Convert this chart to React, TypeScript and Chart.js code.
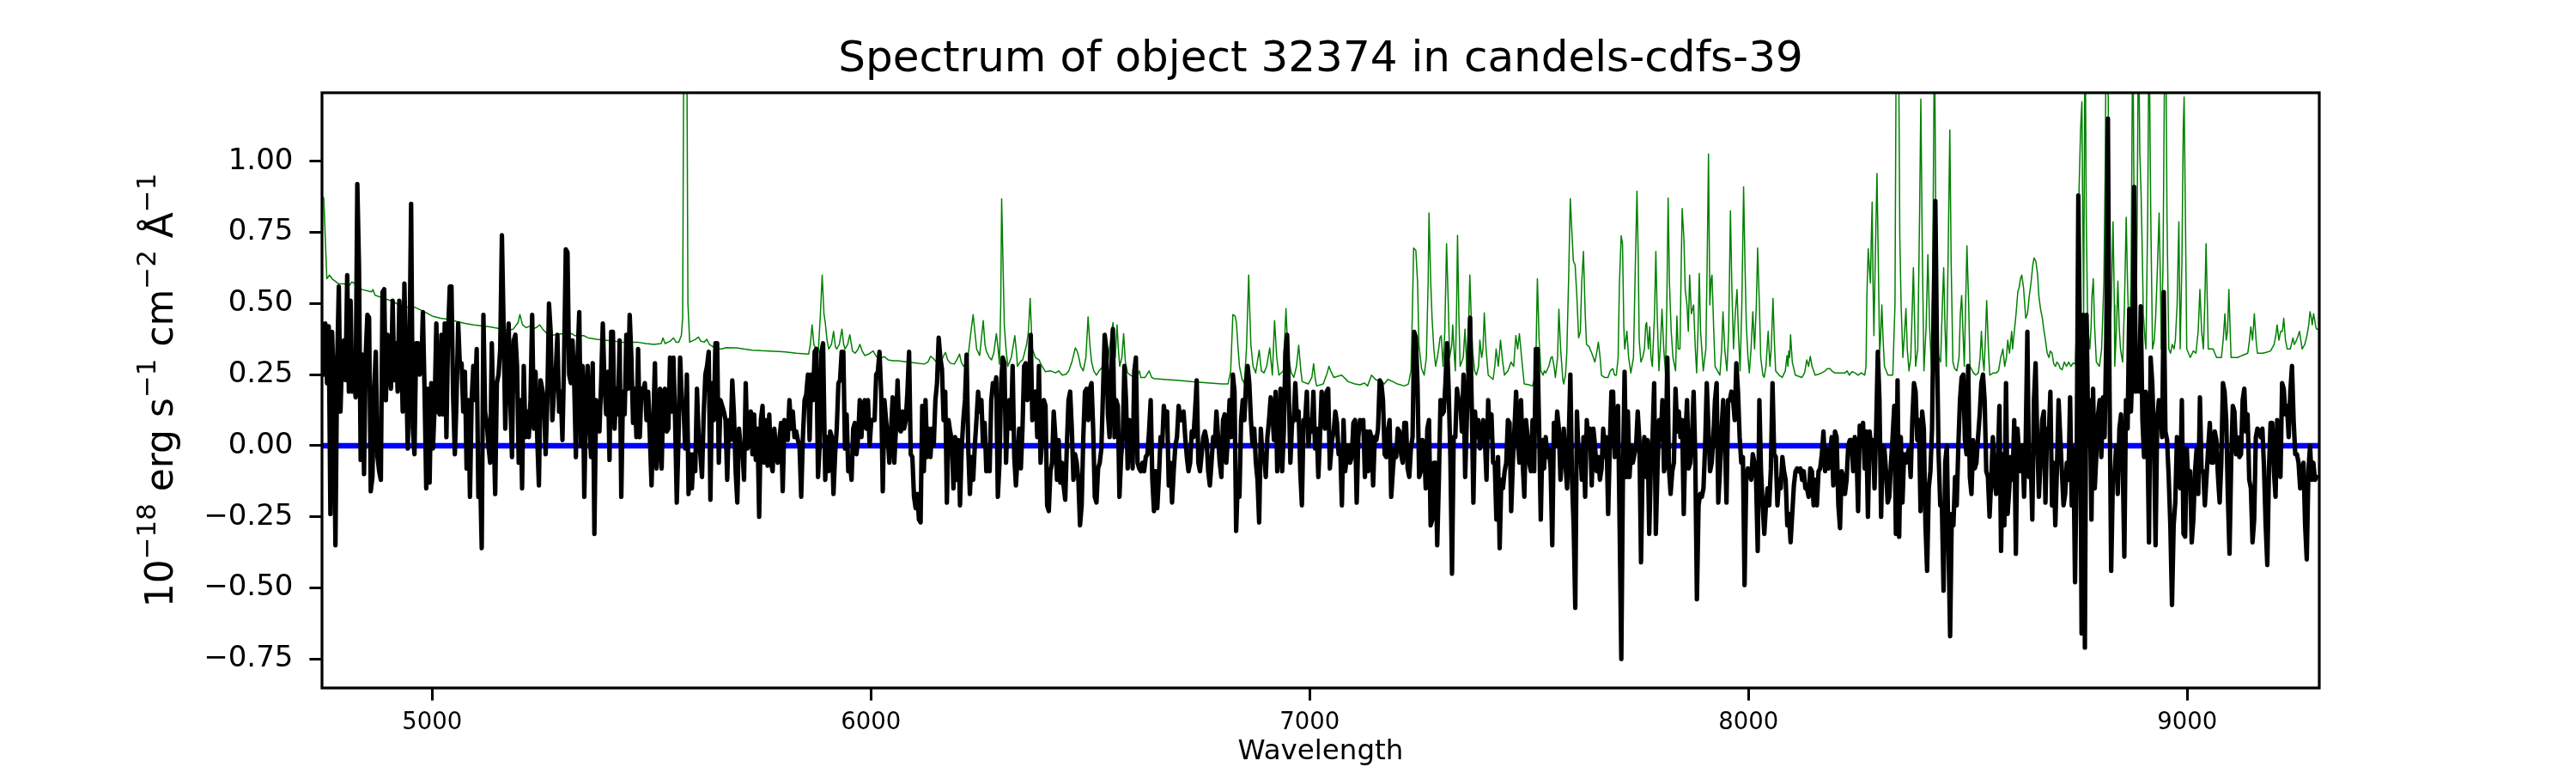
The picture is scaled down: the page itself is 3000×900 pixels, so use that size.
import React, { useEffect, useRef } from 'react';
import { Chart, registerables } from 'chart.js';

Chart.register(...registerables);

// ---------- text ----------
const TITLE = 'Spectrum of object 32374 in candels-cdfs-39';
const X_LABEL = 'Wavelength';
const Y_LABEL_PARTS = [
  { text: '10', sup: false },
  { text: '\u221218', sup: true },
  { text: ' erg s', sup: false },
  { text: '\u22121', sup: true },
  { text: ' cm', sup: false },
  { text: '\u22122', sup: true },
  { text: ' \u00C5', sup: false },
  { text: '\u22121', sup: true },
];

// ---------- axes ----------
const X_MIN = 4749;
const X_MAX = 9301;
const Y_MIN = -0.852;
const Y_MAX = 1.241;
const X_TICKS = [5000, 6000, 7000, 8000, 9000];
const Y_TICKS = [-0.75, -0.5, -0.25, 0, 0.25, 0.5, 0.75, 1.0];

// ---------- black spectrum (flux), four wavelength segments ----------
const FLUX_SEGMENT_START = [4749, 5896, 7051, 8205];
const FLUX_SEGMENT_END = [5891, 7046, 8201, 9295];

const FLUX_A = [
  0.43,0.25,0.43,0.22,0.42,-0.24,0.40,0.20,-0.35,0.28,
  0.56,0.12,0.33,0.37,0.23,0.60,0.19,0.51,0.19,0.26,
  0.17,0.92,0.63,-0.05,0.32,-0.10,0.32,0.46,0.45,-0.16,
  -0.11,0.20,0.33,-0.04,-0.09,-0.12,0.54,0.55,0.16,0.39,
  0.34,0.20,0.51,0.23,0.36,0.19,0.51,0.37,0.12,0.57,
  0.28,-0.01,0.31,0.85,0.06,-0.03,0.36,0.36,0.25,0.26,
  0.47,0.19,-0.15,0.20,-0.13,0.22,-0.01,0.14,0.43,0.12,
  0.11,0.39,0.11,0.43,0.03,0.40,0.56,0.56,0.17,-0.03,
  0.16,0.43,0.28,0.29,0.12,0.26,-0.08,0.16,-0.18,0.16,
  0.28,0.16,0.34,-0.18,-0.09,-0.36,0.46,0.12,0.08,0.00,
  -0.06,0.36,0.08,-0.17,0.22,0.25,0.34,0.74,0.42,0.06,
  0.28,0.43,0.16,-0.04,0.37,0.39,0.28,-0.06,0.16,-0.15,
  0.28,0.03,0.12,0.03,0.16,0.46,0.06,0.26,0.03,-0.14,
  0.23,0.20,0.16,-0.03,0.16,0.50,0.40,0.09,0.19,0.26,
  0.39,0.12,0.19,0.02,0.31,0.69,0.68,0.25,0.22,0.37,
  0.22,-0.04,0.31,0.47,0.00,0.28,-0.18,0.16,0.28,0.08,
  -0.04,0.29,-0.31,0.16,0.12,0.05,0.22,0.43,0.22,0.11,
  0.26,-0.05,0.40,0.40,0.06,0.20,0.11,0.37,-0.18,0.19,
  0.11,0.39,0.20,0.46,0.31,0.08,0.20,0.03,0.34,0.03,
  0.20,0.19,0.22,0.09,0.19,0.03,-0.14,0.08,0.29,-0.08,
  0.03,0.20,-0.08,0.19,0.20,0.05,0.06,0.31,0.12,0.31,
  0.09,-0.20,0.02,0.31,0.16,0.14,-0.01,0.25,-0.17,-0.03,
  -0.15,-0.03,-0.09,0.20,0.03,-0.03,-0.11,0.11,0.25,0.28,
  0.33,-0.19,0.22,0.09,0.36,0.36,-0.06,0.16,0.14,0.12,
  0.09,-0.12,0.09,0.02,0.23,0.11,-0.09,-0.20,0.06,-0.01,
  -0.01,-0.12,0.22,-0.01,0.05,0.12,-0.03,0.11,-0.05,0.06,
  -0.25,0.09,0.14,-0.06,0.09,-0.07,0.11,-0.06,-0.09,0.06,
  -0.01,-0.06,0.02,0.08,-0.16,0.09,0.08,0.02,0.16,0.06,
  0.12,0.03,0.05,0.02,0.00,-0.18,0.03,0.16,0.18,0.25,
  0.02,0.25,0.16,0.33,0.34,-0.11,0.00,0.33,0.36,
];

const FLUX_B = [
  -0.12,0.03,-0.09,0.05,0.03,-0.17,-0.03,0.06,0.22,0.23,
  0.33,0.33,-0.01,0.11,-0.09,-0.06,-0.12,0.06,0.08,-0.03,
  0.03,0.16,0.03,0.14,0.16,0.06,0.16,0.00,0.09,0.09,
  0.09,0.25,0.26,0.33,0.19,-0.16,0.16,0.09,0.03,-0.06,
  0.05,0.17,-0.06,0.06,0.23,0.06,0.05,0.12,0.06,0.09,
  0.19,0.33,-0.03,-0.04,-0.18,-0.22,-0.17,-0.26,-0.27,0.14,
  -0.09,0.16,-0.04,0.06,-0.04,0.06,0.00,0.16,0.22,0.38,
  0.31,0.27,0.09,0.19,-0.20,0.09,0.05,0.02,-0.15,0.03,
  -0.12,0.02,-0.21,-0.01,0.09,0.16,0.32,-0.01,-0.17,-0.04,
  -0.12,0.00,0.09,0.19,0.12,0.16,0.00,0.08,-0.09,-0.04,
  -0.09,0.16,0.22,0.19,0.24,-0.18,-0.06,0.22,0.31,0.29,
  -0.06,0.11,0.16,0.06,0.28,-0.04,-0.14,-0.04,0.06,-0.08,
  0.06,0.28,0.29,0.16,0.20,0.39,0.09,0.17,0.19,0.03,
  0.28,-0.06,0.03,0.16,0.14,-0.21,-0.23,-0.09,-0.06,0.12,
  0.03,-0.12,0.02,-0.13,-0.06,-0.14,-0.19,0.00,0.16,0.19,
  0.06,-0.12,-0.03,-0.06,-0.12,-0.28,-0.21,0.03,0.19,0.20,
  0.09,0.20,0.22,0.06,-0.18,-0.20,-0.08,-0.06,-0.01,0.19,
  0.39,0.34,0.11,0.03,0.25,0.41,0.03,0.16,0.14,-0.18,
  -0.04,0.03,0.28,0.16,-0.08,0.09,0.06,-0.08,0.26,0.31,
  -0.06,-0.08,-0.09,-0.06,-0.09,-0.04,-0.03,0.05,0.16,-0.12,
  -0.23,-0.09,-0.22,-0.11,0.03,0.00,0.14,0.08,0.12,-0.14,
  -0.06,-0.20,-0.09,0.00,0.03,0.14,0.09,0.09,0.12,0.03,
  -0.04,-0.09,-0.06,0.05,0.03,0.12,0.23,-0.06,-0.09,-0.03,
  0.03,0.05,0.02,-0.09,-0.14,-0.06,0.03,0.00,0.12,0.03,
  -0.06,-0.11,0.09,0.11,-0.06,0.03,0.16,0.03,0.25,0.19,
  -0.30,-0.12,-0.18,0.09,0.16,0.09,0.22,0.28,0.22,0.09,
  0.00,0.06,-0.06,-0.12,-0.27,0.06,-0.04,-0.03,-0.11,0.03,
  0.09,0.17,0.12,0.02,0.19,-0.09,-0.01,0.20,-0.09,0.05,
  0.33,0.39,0.19,-0.06,0.08,0.09,0.22,0.09,0.12,-0.09,
  -0.21,0.09,0.09,0.19,0.00,0.09,0.05,0.19,-0.01,0.06,
  -0.11,0.03,0.19,0.16,0.06,0.19,0.20,-0.08,
];

const FLUX_C = [
  0.02,0.05,0.12,0.08,-0.03,-0.01,-0.21,0.09,-0.09,-0.04,
  0.00,-0.06,-0.04,0.08,0.09,-0.20,0.03,0.09,0.06,0.09,
  -0.11,0.05,-0.09,0.05,0.03,-0.14,0.03,0.02,0.06,0.23,
  0.22,0.16,-0.03,-0.04,0.05,0.09,-0.18,-0.09,-0.01,-0.04,
  0.06,0.05,-0.03,-0.06,0.08,0.08,-0.08,-0.11,-0.01,0.03,
  0.40,0.38,0.22,-0.11,-0.09,0.02,0.01,-0.15,0.06,0.09,
  -0.28,-0.26,-0.06,-0.06,-0.35,-0.12,0.16,0.11,0.12,0.22,
  0.36,0.19,-0.04,-0.45,0.03,0.03,0.20,0.16,0.16,0.05,
  0.25,-0.11,0.09,0.26,0.45,0.14,-0.20,0.12,0.03,0.09,
  -0.01,0.03,0.09,0.02,-0.12,0.16,0.03,0.11,-0.06,-0.06,
  -0.26,-0.04,-0.36,-0.12,-0.15,-0.09,-0.06,0.09,0.08,-0.23,
  -0.06,0.06,0.19,0.02,-0.06,0.16,-0.06,-0.18,0.09,0.03,
  -0.06,-0.09,0.09,-0.09,0.34,0.34,0.06,-0.26,0.02,-0.08,
  0.03,-0.04,-0.01,-0.08,-0.35,0.08,0.00,0.12,0.06,-0.12,
  -0.03,0.06,-0.06,-0.15,0.02,0.25,-0.12,-0.28,-0.57,0.12,
  -0.04,-0.01,-0.12,0.03,-0.18,0.09,0.00,0.06,-0.14,0.06,
  0.00,-0.09,-0.04,-0.12,-0.08,0.06,-0.04,0.03,-0.24,0.00,
  0.19,0.19,-0.04,0.06,0.14,-0.29,-0.75,-0.09,0.26,-0.11,
  0.12,-0.11,0.00,-0.06,-0.03,0.00,0.12,0.02,-0.41,-0.06,
  0.03,-0.11,0.02,-0.31,-0.06,0.03,0.22,-0.31,-0.09,0.09,
  0.02,0.16,-0.09,-0.06,0.31,-0.08,-0.17,-0.09,-0.06,0.20,
  0.05,0.12,0.03,0.09,-0.24,0.03,0.16,-0.08,-0.06,0.03,
  0.19,-0.04,-0.54,-0.21,-0.17,-0.18,-0.15,0.00,0.22,0.06,
  -0.09,-0.06,0.03,0.16,0.22,-0.20,-0.09,0.06,0.16,0.03,
  -0.20,0.16,0.16,0.19,0.16,0.09,0.29,0.19,0.03,-0.06,
  -0.04,-0.49,-0.12,-0.08,-0.09,-0.12,-0.03,-0.06,-0.12,-0.37,
  0.16,-0.09,-0.21,-0.31,-0.21,-0.15,-0.21,-0.08,0.22,-0.03,
  -0.04,-0.21,-0.12,-0.15,-0.04,-0.09,-0.12,-0.28,-0.24,-0.34,
  -0.24,-0.14,-0.09,-0.08,-0.09,-0.08,-0.12,-0.09,-0.15,-0.15,
  -0.18,-0.08,-0.09,-0.21,-0.12,-0.21,-0.09,-0.08,-0.03,0.05,
  -0.09,-0.01,-0.08,-0.03,0.03,-0.14,0.05,0.03,
];

const FLUX_D = [
  -0.21,-0.29,-0.09,-0.11,-0.17,-0.12,0.00,0.02,0.02,-0.09,
  0.03,-0.01,-0.23,0.07,0.03,0.08,-0.08,0.05,-0.25,0.05,
  -0.01,0.02,-0.15,0.06,0.33,0.16,-0.25,0.00,-0.01,-0.09,
  -0.20,-0.18,-0.06,0.03,0.14,-0.31,0.23,-0.32,0.03,-0.20,
  -0.03,-0.06,-0.03,-0.01,-0.11,0.09,0.22,0.19,0.02,0.09,
  -0.23,0.12,0.06,-0.28,-0.44,-0.15,-0.09,0.06,0.49,0.86,
  0.34,-0.03,-0.21,-0.21,-0.51,-0.06,0.00,-0.35,-0.67,-0.24,
  -0.28,-0.11,-0.21,0.00,0.16,0.24,0.25,0.02,-0.03,0.28,
  -0.11,-0.17,0.02,-0.08,-0.06,0.03,0.11,0.22,0.25,0.16,
  -0.09,-0.11,-0.25,-0.12,0.03,-0.12,-0.17,-0.06,0.14,-0.37,
  -0.03,-0.28,0.22,-0.24,-0.15,-0.04,-0.12,0.09,-0.38,0.06,
  -0.04,-0.09,0.00,-0.18,0.02,0.40,-0.11,-0.04,-0.26,0.16,
  0.29,0.03,-0.18,-0.06,0.09,0.12,-0.20,0.06,0.03,0.19,
  -0.21,-0.06,-0.28,-0.08,0.16,0.03,-0.09,-0.21,-0.17,-0.06,
  -0.12,0.17,-0.21,-0.01,-0.48,-0.06,0.88,0.34,-0.66,0.46,
  -0.71,0.46,0.06,0.16,-0.26,0.20,-0.15,-0.03,0.11,0.16,
  -0.04,0.17,0.03,0.37,1.15,0.19,-0.44,-0.12,-0.11,0.00,
  -0.17,0.06,0.11,-0.06,-0.39,0.16,0.06,0.48,0.12,0.28,
  0.91,0.19,0.28,0.19,0.49,0.09,-0.04,0.19,0.06,-0.34,
  0.31,0.22,0.03,-0.35,0.09,0.16,0.12,0.03,0.54,0.05,
  0.02,-0.11,-0.28,-0.56,-0.28,-0.20,0.03,-0.12,-0.15,0.16,
  -0.31,-0.32,-0.01,-0.14,-0.09,-0.34,-0.26,-0.09,-0.01,-0.17,
  0.17,-0.09,-0.09,-0.21,-0.11,-0.01,0.08,-0.06,-0.06,0.05,
  0.02,-0.11,-0.20,-0.06,0.22,0.19,0.09,-0.18,-0.38,-0.06,
  0.14,0.12,-0.03,0.03,-0.04,-0.03,0.16,0.20,0.05,0.11,
  -0.12,-0.15,-0.34,-0.26,0.03,0.06,0.05,0.03,0.06,-0.08,
  -0.28,-0.42,-0.08,0.08,0.08,-0.09,-0.18,0.09,0.00,-0.11,
  0.22,0.20,0.11,0.14,0.03,0.19,0.28,0.09,-0.03,-0.03,
  -0.06,-0.15,-0.09,-0.06,-0.28,-0.40,-0.09,0.00,-0.12,-0.06,
  -0.12,-0.11,
];

const FLUX_SEGMENTS = [FLUX_A, FLUX_B, FLUX_C, FLUX_D];

// ---------- green spectrum: [wavelength, value] ----------
const GREEN_POINTS = [
  [4749,0.88],[4753,0.87],[4760,0.587],[4766,0.60],[4772,0.587],[4786,0.57],[4800,0.569],[4812,0.564],
  [4817,0.576],[4825,0.569],[4840,0.549],[4862,0.541],[4865,0.549],[4870,0.529],[4890,0.518],[4906,0.51],
  [4925,0.495],[4944,0.487],[4960,0.487],[4981,0.472],[5000,0.456],[5019,0.448],[5040,0.444],[5056,0.437],
  [5075,0.43],[5094,0.425],[5115,0.421],[5131,0.418],[5150,0.413],[5169,0.405],[5185,0.41],[5196,0.433],
  [5200,0.461],[5206,0.425],[5214,0.415],[5222,0.42],[5230,0.41],[5240,0.418],[5245,0.425],[5252,0.41],
  [5262,0.394],[5270,0.387],[5290,0.393],[5318,0.394],[5325,0.387],[5345,0.387],[5356,0.379],[5375,0.374],
  [5393,0.371],[5412,0.368],[5431,0.364],[5450,0.364],[5468,0.364],[5487,0.359],[5506,0.356],[5522,0.359],
  [5526,0.379],[5531,0.359],[5543,0.368],[5550,0.379],[5556,0.364],[5562,0.364],[5568,0.387],[5571,0.45],
  [5574,1.6],[5577,2.5],[5580,1.6],[5583,0.5],[5587,0.364],[5600,0.374],[5607,0.382],[5612,0.368],
  [5620,0.364],[5626,0.374],[5632,0.356],[5640,0.348],[5648,0.34],[5660,0.34],[5670,0.345],[5693,0.344],
  [5710,0.34],[5730,0.336],[5750,0.334],[5768,0.333],[5790,0.331],[5805,0.33],[5830,0.325],[5858,0.322],
  [5862,0.356],[5866,0.425],[5870,0.356],[5876,0.333],[5880,0.328],[5885,0.464],[5889,0.60],[5893,0.464],
  [5896,0.433],[5900,0.371],[5904,0.34],[5910,0.356],[5915,0.402],[5919,0.348],[5922,0.34],[5928,0.356],
  [5934,0.41],[5938,0.356],[5941,0.34],[5947,0.356],[5952,0.39],[5958,0.333],[5964,0.325],[5970,0.337],
  [5975,0.356],[5980,0.333],[5986,0.317],[5995,0.322],[6005,0.333],[6011,0.317],[6016,0.307],[6025,0.31],
  [6031,0.313],[6039,0.302],[6050,0.299],[6061,0.299],[6084,0.294],[6100,0.291],[6121,0.287],[6130,0.294],
  [6136,0.314],[6142,0.307],[6151,0.291],[6160,0.294],[6166,0.317],[6170,0.328],[6175,0.302],[6181,0.29],
  [6190,0.287],[6196,0.302],[6202,0.322],[6206,0.294],[6211,0.279],[6220,0.294],[6228,0.40],[6233,0.461],
  [6237,0.40],[6241,0.34],[6248,0.317],[6256,0.44],[6260,0.356],[6263,0.333],[6270,0.31],[6275,0.302],
  [6280,0.325],[6286,0.394],[6290,0.34],[6293,0.287],[6296,0.50],[6298,0.868],[6301,0.65],[6304,0.425],
  [6308,0.34],[6312,0.279],[6320,0.31],[6328,0.387],[6332,0.325],[6334,0.279],[6340,0.294],[6346,0.302],
  [6350,0.325],[6355,0.356],[6359,0.402],[6363,0.518],[6366,0.402],[6368,0.34],[6375,0.31],[6383,0.302],
  [6390,0.279],[6398,0.26],[6410,0.263],[6421,0.256],[6428,0.263],[6436,0.248],[6445,0.251],[6451,0.263],
  [6458,0.294],[6466,0.344],[6470,0.333],[6473,0.317],[6478,0.279],[6484,0.263],[6490,0.31],[6495,0.453],
  [6499,0.356],[6503,0.294],[6508,0.263],[6514,0.248],[6520,0.263],[6529,0.279],[6540,0.294],[6545,0.356],
  [6548,0.40],[6552,0.433],[6557,0.31],[6561,0.425],[6564,0.34],[6567,0.279],[6572,0.31],[6576,0.394],
  [6580,0.294],[6585,0.256],[6592,0.248],[6600,0.24],[6608,0.248],[6612,0.263],[6615,0.24],[6625,0.24],
  [6634,0.263],[6640,0.24],[6645,0.236],[6668,0.233],[6698,0.23],[6735,0.225],[6773,0.22],[6800,0.217],
  [6814,0.217],[6820,0.263],[6825,0.461],[6830,0.456],[6833,0.433],[6837,0.34],[6840,0.279],[6846,0.233],
  [6851,0.22],[6856,0.34],[6861,0.60],[6864,0.448],[6866,0.356],[6871,0.279],[6877,0.256],[6885,0.336],
  [6890,0.263],[6896,0.256],[6902,0.279],[6909,0.344],[6915,0.248],[6920,0.44],[6925,0.31],[6930,0.248],
  [6940,0.263],[6946,0.482],[6950,0.34],[6952,0.31],[6958,0.256],[6964,0.24],[6970,0.279],[6975,0.353],
  [6980,0.263],[6983,0.225],[6997,0.217],[7005,0.24],[7009,0.288],[7013,0.233],[7016,0.21],[7031,0.217],
  [7040,0.256],[7044,0.279],[7048,0.263],[7055,0.24],[7073,0.248],[7088,0.225],[7103,0.217],[7115,0.214],
  [7125,0.22],[7132,0.21],[7141,0.248],[7150,0.233],[7160,0.225],[7170,0.217],[7178,0.233],[7190,0.225],
  [7200,0.217],[7216,0.21],[7225,0.217],[7231,0.263],[7234,0.464],[7237,0.695],[7242,0.687],[7246,0.572],
  [7249,0.356],[7255,0.271],[7261,0.248],[7266,0.31],[7270,0.572],[7272,0.818],[7276,0.572],[7279,0.448],
  [7283,0.34],[7287,0.279],[7291,0.31],[7294,0.34],[7297,0.379],[7300,0.387],[7304,0.279],[7308,0.402],
  [7312,0.71],[7316,0.495],[7319,0.31],[7324,0.356],[7326,0.425],[7330,0.31],[7332,0.263],[7335,0.495],
  [7337,0.74],[7340,0.464],[7343,0.279],[7350,0.31],[7354,0.41],[7357,0.31],[7358,0.263],[7362,0.402],
  [7365,0.60],[7368,0.464],[7371,0.34],[7376,0.263],[7380,0.248],[7385,0.279],[7388,0.371],[7392,0.31],
  [7395,0.34],[7398,0.467],[7402,0.34],[7407,0.248],[7418,0.233],[7422,0.279],[7425,0.34],[7430,0.279],
  [7435,0.371],[7440,0.294],[7444,0.248],[7452,0.263],[7459,0.294],[7465,0.279],[7470,0.387],[7474,0.34],
  [7478,0.394],[7483,0.31],[7489,0.217],[7500,0.214],[7508,0.21],[7515,0.248],[7519,0.587],[7523,0.371],
  [7527,0.263],[7532,0.248],[7535,0.263],[7538,0.256],[7545,0.279],[7550,0.31],[7553,0.313],[7557,0.279],
  [7560,0.24],[7565,0.31],[7568,0.48],[7572,0.34],[7577,0.233],[7579,0.217],[7583,0.248],[7586,0.325],
  [7590,0.572],[7594,0.869],[7597,0.772],[7601,0.65],[7605,0.635],[7609,0.525],[7613,0.379],[7617,0.402],
  [7620,0.572],[7624,0.683],[7628,0.464],[7631,0.356],[7637,0.348],[7643,0.325],[7650,0.294],[7654,0.325],
  [7658,0.364],[7662,0.31],[7665,0.248],[7672,0.24],[7680,0.24],[7685,0.263],[7691,0.271],[7695,0.248],
  [7699,0.248],[7703,0.31],[7706,0.572],[7710,0.738],[7713,0.71],[7716,0.418],[7718,0.34],[7723,0.402],
  [7727,0.31],[7732,0.256],[7738,0.31],[7742,0.618],[7746,0.895],[7749,0.649],[7751,0.372],[7755,0.294],
  [7759,0.31],[7763,0.34],[7766,0.425],[7768,0.433],[7772,0.34],[7775,0.418],[7778,0.31],[7781,0.279],
  [7786,0.464],[7789,0.683],[7792,0.464],[7796,0.263],[7800,0.371],[7803,0.48],[7807,0.34],[7811,0.256],
  [7814,0.495],[7817,0.871],[7820,0.572],[7824,0.402],[7828,0.31],[7834,0.263],[7837,0.456],[7840,0.34],
  [7844,0.34],[7847,0.649],[7849,0.834],[7853,0.726],[7856,0.549],[7860,0.495],[7863,0.402],[7866,0.60],
  [7870,0.464],[7875,0.495],[7879,0.34],[7882,0.256],[7885,0.402],[7888,0.606],[7891,0.402],[7897,0.263],
  [7903,0.34],[7906,0.649],[7909,1.026],[7912,0.495],[7915,0.587],[7917,0.60],[7921,0.402],[7924,0.279],
  [7935,0.248],[7939,0.34],[7942,0.471],[7946,0.34],[7951,0.263],[7955,0.402],[7959,0.826],[7962,0.572],
  [7966,0.34],[7970,0.464],[7974,0.549],[7977,0.402],[7981,0.263],[7985,0.495],[7989,0.91],[7992,0.649],
  [7995,0.433],[7999,0.31],[8002,0.256],[8006,0.34],[8010,0.471],[8014,0.34],[8018,0.495],[8021,0.695],
  [8025,0.495],[8028,0.31],[8033,0.248],[8036,0.24],[8040,0.279],[8045,0.402],[8049,0.279],[8052,0.34],
  [8056,0.518],[8059,0.371],[8062,0.263],[8070,0.248],[8077,0.24],[8084,0.263],[8088,0.317],[8090,0.279],
  [8092,0.333],[8094,0.31],[8096,0.39],[8100,0.294],[8107,0.248],[8122,0.24],[8128,0.256],[8133,0.302],
  [8137,0.279],[8141,0.314],[8145,0.279],[8152,0.248],[8160,0.251],[8167,0.256],[8175,0.263],[8180,0.271],
  [8186,0.271],[8190,0.263],[8197,0.256],[8206,0.256],[8220,0.256],[8225,0.263],[8230,0.248],[8236,0.26],
  [8243,0.256],[8250,0.248],[8257,0.256],[8265,0.248],[8268,0.279],[8270,0.525],[8273,0.692],[8276,0.618],
  [8278,0.572],[8280,0.726],[8282,0.857],[8284,0.572],[8286,0.387],[8289,0.649],[8293,0.957],[8296,0.649],
  [8299,0.325],[8301,0.371],[8304,0.495],[8307,0.371],[8310,0.279],[8318,0.248],[8329,0.248],[8334,0.495],
  [8337,1.5],[8339,1.8],[8342,1.5],[8345,0.733],[8348,0.495],[8352,0.31],[8356,0.402],[8359,0.482],
  [8362,0.34],[8366,0.263],[8370,0.31],[8373,0.464],[8376,0.626],[8379,0.418],[8381,0.279],[8386,0.34],
  [8390,0.803],[8393,1.219],[8396,0.726],[8400,0.263],[8405,0.418],[8409,0.672],[8413,0.418],[8417,0.279],
  [8420,0.572],[8424,1.5],[8427,0.803],[8430,0.34],[8434,0.31],[8438,0.294],[8442,0.495],[8445,0.626],
  [8448,0.418],[8451,0.279],[8455,0.649],[8459,1.11],[8462,0.649],[8466,0.294],[8470,0.271],[8475,0.263],
  [8480,0.31],[8483,0.464],[8486,0.528],[8489,0.402],[8492,0.279],[8495,0.495],[8498,0.703],[8502,0.495],
  [8505,0.279],[8513,0.256],[8518,0.248],[8524,0.256],[8528,0.31],[8531,0.402],[8534,0.31],[8537,0.263],
  [8540,0.371],[8543,0.51],[8547,0.34],[8550,0.248],[8558,0.256],[8565,0.256],[8570,0.263],[8575,0.31],
  [8580,0.34],[8584,0.279],[8588,0.31],[8591,0.371],[8595,0.325],[8600,0.402],[8602,0.34],[8606,0.402],
  [8610,0.464],[8614,0.541],[8617,0.556],[8620,0.587],[8623,0.60],[8627,0.556],[8632,0.448],[8636,0.464],
  [8640,0.525],[8644,0.572],[8648,0.634],[8651,0.66],[8655,0.649],[8659,0.603],[8662,0.525],[8666,0.479],
  [8670,0.448],[8673,0.41],[8677,0.371],[8681,0.325],[8685,0.31],[8688,0.333],[8692,0.325],[8696,0.287],
  [8700,0.279],[8703,0.294],[8707,0.287],[8711,0.271],[8715,0.267],[8720,0.294],[8725,0.279],[8730,0.294],
  [8735,0.279],[8740,0.291],[8745,0.287],[8749,0.464],[8752,0.803],[8754,0.926],[8757,1.11],[8760,1.21],
  [8762,0.803],[8764,0.464],[8766,1.11],[8767,1.6],[8770,0.803],[8773,0.448],[8776,0.371],[8778,0.34],
  [8781,0.418],[8783,0.525],[8786,0.587],[8789,0.418],[8793,0.294],[8800,0.279],[8805,0.34],[8810,0.572],
  [8813,0.957],[8816,1.6],[8818,1.4],[8820,1.234],[8823,0.34],[8827,0.495],[8831,0.787],[8834,0.495],
  [8835,0.279],[8839,0.418],[8842,0.579],[8845,0.418],[8848,0.34],[8851,0.31],[8853,0.294],[8857,0.495],
  [8861,0.803],[8864,0.572],[8868,0.34],[8872,0.572],[8876,1.5],[8879,0.803],[8883,0.34],[8886,0.803],
  [8889,1.5],[8892,1.034],[8895,0.88],[8898,0.649],[8900,0.464],[8904,0.371],[8906,0.34],[8910,0.803],
  [8913,1.5],[8917,0.803],[8921,0.34],[8925,0.371],[8928,0.448],[8932,0.618],[8936,0.818],[8939,0.572],
  [8941,0.34],[8945,0.649],[8948,1.265],[8951,1.5],[8954,0.803],[8958,0.34],[8962,0.325],[8966,0.356],
  [8970,0.34],[8973,0.371],[8977,0.495],[8981,0.787],[8984,0.34],[8988,0.649],[8991,1.11],[8993,1.226],
  [8996,0.803],[8999,0.34],[9007,0.31],[9014,0.333],[9020,0.325],[9025,0.402],[9029,0.549],[9033,0.402],
  [9037,0.34],[9040,0.495],[9043,0.71],[9046,0.495],[9048,0.34],[9059,0.34],[9067,0.31],[9078,0.31],
  [9082,0.371],[9086,0.464],[9089,0.371],[9092,0.402],[9095,0.549],[9098,0.402],[9100,0.31],[9115,0.31],
  [9125,0.317],[9138,0.325],[9142,0.371],[9145,0.418],[9149,0.371],[9153,0.464],[9157,0.371],[9160,0.325],
  [9172,0.325],[9180,0.328],[9190,0.333],[9198,0.356],[9202,0.387],[9205,0.425],[9209,0.371],[9213,0.402],
  [9217,0.402],[9220,0.448],[9224,0.371],[9228,0.34],[9235,0.34],[9241,0.379],[9244,0.356],[9247,0.364],
  [9251,0.379],[9256,0.402],[9259,0.371],[9262,0.34],[9268,0.356],[9273,0.387],[9277,0.425],[9280,0.471],
  [9283,0.448],[9285,0.425],[9288,0.464],[9290,0.448],[9293,0.418],[9295,0.41],[9301,0.41],
];

// ---------- blue model line ----------
const BLUE_WAVE = [4749, 9301];
const BLUE_FLUX = [0.0, 0.0];

const FONT = "'DejaVu Sans'";

function buildBlack() {
  const out: { x: number; y: number }[] = [];
  FLUX_SEGMENTS.forEach((vals, s) => {
    const a = FLUX_SEGMENT_START[s];
    const b = FLUX_SEGMENT_END[s];
    vals.forEach((v, i) => {
      out.push({ x: a + ((b - a) * i) / (vals.length - 1), y: v });
    });
  });
  return out;
}

const decorPlugin = {
  id: 'decor',
  afterDatasetsDraw(chart: any) {
    const { ctx, chartArea: a } = chart;
    ctx.save();
    ctx.strokeStyle = '#000000';
    ctx.lineWidth = 3.2;
    ctx.strokeRect(a.left, a.top, a.right - a.left, a.bottom - a.top);
    ctx.restore();
  },
  afterDraw(chart: any) {
    const { ctx, chartArea: a } = chart;
    // title
    ctx.save();
    ctx.fillStyle = '#000000';
    ctx.font = `50px ${FONT}`;
    ctx.textAlign = 'center';
    ctx.textBaseline = 'alphabetic';
    ctx.fillText(TITLE, (a.left + a.right) / 2, 83);
    ctx.restore();

    // y label with superscripts
    const f = 44;
    const fs = f * 0.7;
    const rise = f * 0.45;
    ctx.save();
    ctx.fillStyle = '#000000';
    ctx.textBaseline = 'alphabetic';
    ctx.textAlign = 'left';
    ctx.translate(201, (a.top + a.bottom) / 2);
    ctx.rotate(-Math.PI / 2);
    let total = 0;
    Y_LABEL_PARTS.forEach((p) => {
      ctx.font = `${p.sup ? fs : f}px ${FONT}`;
      total += ctx.measureText(p.text).width;
    });
    let x = -total / 2;
    Y_LABEL_PARTS.forEach((p) => {
      ctx.font = `${p.sup ? fs : f}px ${FONT}`;
      ctx.fillText(p.text, x, p.sup ? -rise : 0);
      x += ctx.measureText(p.text).width;
    });
    ctx.restore();
  },
};

export default function App() {
  const ref = useRef<HTMLCanvasElement | null>(null);

  useEffect(() => {
    if (!ref.current) return;
    const black = buildBlack();
    const green = GREEN_POINTS.map(([x, y]) => ({ x, y }));
    const blue = BLUE_WAVE.map((x, i) => ({ x, y: BLUE_FLUX[i] }));

    const chart = new Chart(ref.current, {
      type: 'line',
      data: {
        datasets: [
          {
            data: black,
            borderColor: '#000000',
            borderWidth: 5.2,
            pointRadius: 0,
            tension: 0,
            borderJoinStyle: 'round',
            borderCapStyle: 'round',
            order: 0,
            clip: 0,
          } as any,
          {
            data: green,
            borderColor: '#008000',
            borderWidth: 1.5,
            pointRadius: 0,
            tension: 0,
            borderJoinStyle: 'round',
            order: 1,
            clip: 0,
          } as any,
          {
            data: blue,
            borderColor: '#0000ff',
            borderWidth: 6.5,
            pointRadius: 0,
            tension: 0,
            order: 2,
            clip: 0,
          } as any,
        ],
      },
      options: {
        animation: false,
        responsive: false,
        devicePixelRatio: 1,
        events: [],
        layout: { padding: { left: 0, right: 299, top: 108, bottom: 0 } },
        plugins: {
          legend: { display: false },
          tooltip: { enabled: false },
          title: { display: false },
        },
        scales: {
          x: {
            type: 'linear',
            min: X_MIN,
            max: X_MAX,
            afterBuildTicks: (s: any) => {
              s.ticks = X_TICKS.map((v) => ({ value: v }));
            },
            afterFit: (s: any) => {
              s.height = 99;
            },
            border: { display: false },
            grid: {
              drawOnChartArea: false,
              drawTicks: true,
              tickLength: 14.6,
              tickWidth: 3,
              tickColor: '#000000',
              color: '#000000',
            },
            ticks: {
              color: '#000000',
              font: { family: FONT, size: 27.5 },
              padding: 10,
              maxRotation: 0,
              minRotation: 0,
              autoSkip: false,
              callback: (v: any) => String(v),
            },
            title: {
              display: true,
              text: X_LABEL,
              color: '#000000',
              font: { family: FONT, size: 32.5 },
              padding: { top: 0, bottom: 4.7 },
            },
          },
          y: {
            type: 'linear',
            min: Y_MIN,
            max: Y_MAX,
            afterBuildTicks: (s: any) => {
              s.ticks = Y_TICKS.map((v) => ({ value: v }));
            },
            afterFit: (s: any) => {
              s.width = 375;
            },
            border: { display: false },
            grid: {
              drawOnChartArea: false,
              drawTicks: true,
              tickLength: 14.6,
              tickWidth: 3,
              tickColor: '#000000',
              color: '#000000',
            },
            ticks: {
              color: '#000000',
              font: { family: FONT, size: 34 },
              padding: 19,
              autoSkip: false,
              callback: (v: any) => {
                const n = Number(v);
                return (n < 0 ? '\u2212' : '') + Math.abs(n).toFixed(2);
              },
            },
          },
        },
      } as any,
      plugins: [decorPlugin],
    });
    return () => chart.destroy();
  }, []);

  return (
    <div style={{ position: 'absolute', left: 0, top: 0, width: 3000, height: 900, background: '#ffffff' }}>
      <canvas ref={ref} width={3000} height={900} style={{ width: 3000, height: 900, display: 'block' }} />
    </div>
  );
}
